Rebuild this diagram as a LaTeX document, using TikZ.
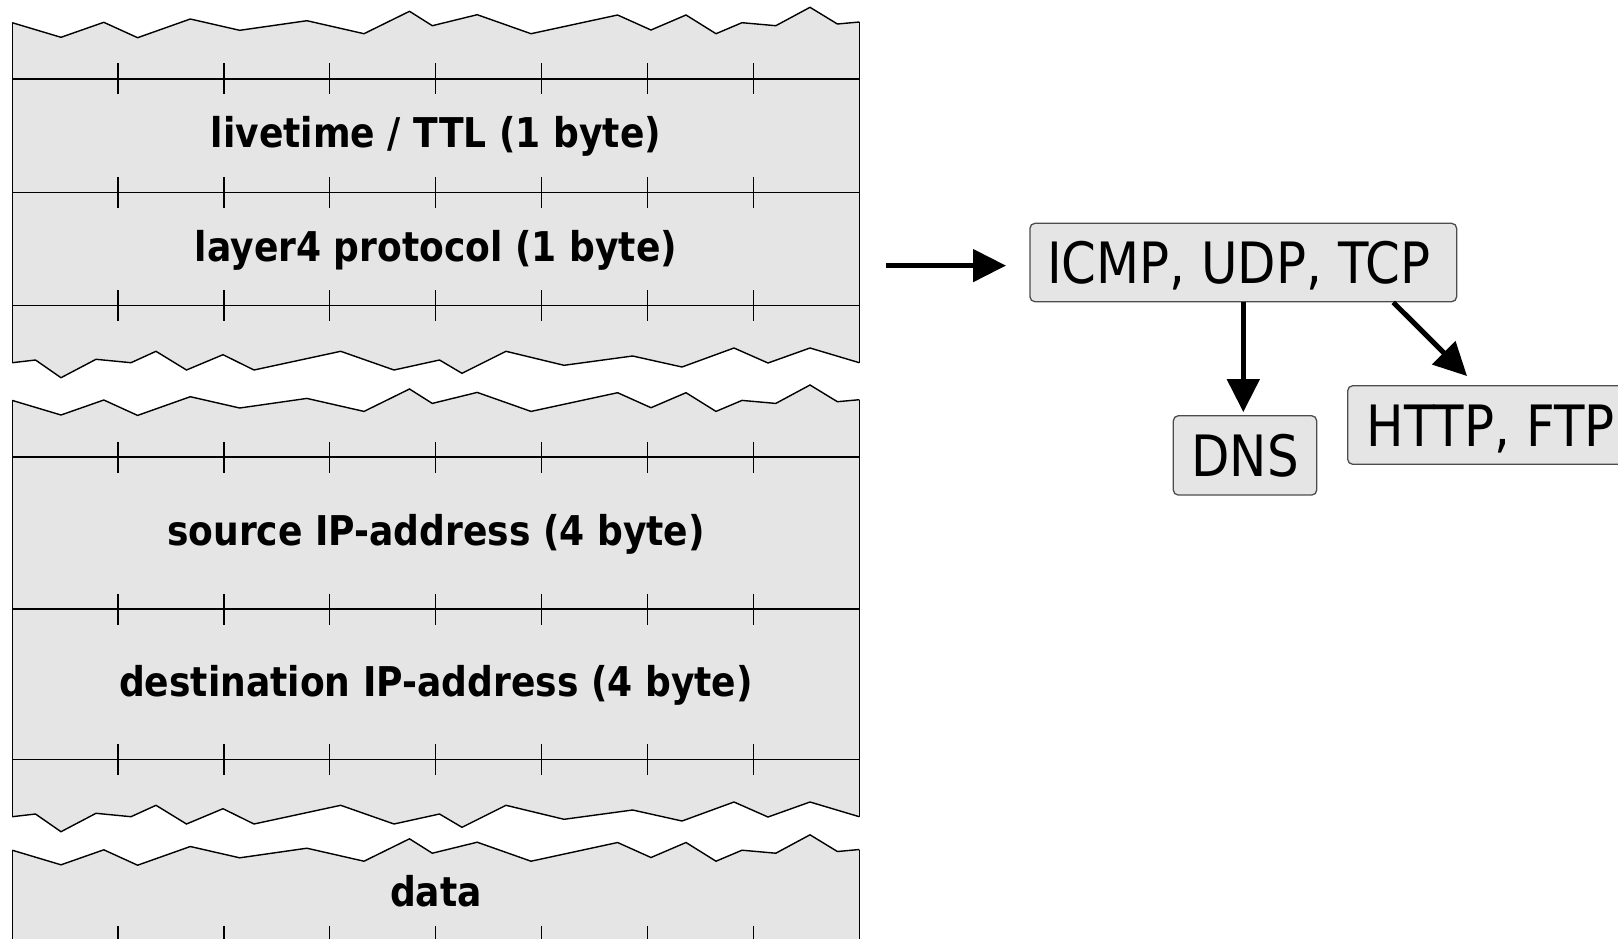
\documentclass[tikz,border=0pt]{standalone}
\usepackage{fontspec}
\usetikzlibrary{arrows.meta,calc}
\newfontfamily\hdrfont{DejaVu Sans}[FakeStretch=0.88]
\newfontfamily\boxfont{DejaVu Sans}[FakeStretch=0.875]
\definecolor{pktgray}{HTML}{E5E5E5}
\definecolor{boxedge}{HTML}{4D4D4D}
\newcommand\topjag[1]{(12.2,22.7+#1) -- (61,37.3+#1) -- (103.8,22.3+#1) -- (137.6,37.7+#1) -- (190.3,19+#1) -- (239.7,30.3+#1) -- (306.9,20.7+#1) -- (364,33.7+#1) -- (409.5,11.3+#1) -- (432.3,25.7+#1) -- (477.2,14.7+#1) -- (531,33.7+#1) -- (617.6,15+#1) -- (651,30+#1) -- (686,15+#1) -- (716,33.7+#1) -- (742,22.7+#1) -- (775.8,25.7+#1) -- (810,7.3+#1) -- (837.4,24+#1) -- (859.3,22+#1)}
\newcommand\botjag[1]{(859.3,362.7+#1) -- (810,348+#1) -- (768,363+#1) -- (734,348+#1) -- (682,367+#1) -- (632.6,356+#1) -- (564,365.3+#1) -- (506,351.3+#1) -- (462,373.3+#1) -- (439.5,360+#1) -- (394,370+#1) -- (340.7,351.3+#1) -- (254,370+#1) -- (223,354.7+#1) -- (186.5,370+#1) -- (156,351.3+#1) -- (131,362.7+#1) -- (96,359.3+#1) -- (61,377.7+#1) -- (35.5,360+#1) -- (12.2,362.7+#1)}
\tikzset{
  blk/.style={fill=pktgray},
  edge/.style={draw=black, line width=1.4pt, line join=miter},
  hl/.style={draw=black, line width=1.2pt},
  hdr/.style={anchor=base, inner sep=0pt, font=\hdrfont\bfseries\fontsize{41}{44}\selectfont},
  proto/.style={draw=boxedge, fill=pktgray, line width=1.3pt, rounded corners=5pt,
    inner sep=0pt, text height=42pt, text depth=0pt,
    font=\boxfont\fontsize{57}{60}\selectfont},
  arr/.style={draw=black, line width=5pt, -{Triangle[length=33pt,width=32pt]}}
}
\begin{document}
\begin{tikzpicture}[x=1pt,y=-1pt]
\useasboundingbox (0,0) rectangle (1618,938);
\clip (0,0) rectangle (1618,938);
% block 1
\fill[blk] \topjag{0} -- \botjag{0} -- cycle;
\draw[edge] \topjag{0};
\draw[edge] \botjag{0};
\draw[edge] (12.2,22.7) -- (12.2,362.7);
\draw[edge] (859.3,22) -- (859.3,362.7);
% block 2
\fill[blk] \topjag{377.7} -- \botjag{454} -- cycle;
\draw[edge] \topjag{377.7};
\draw[edge] \botjag{454};
\draw[edge] (12.2,400.4) -- (12.2,816.7);
\draw[edge] (859.3,399.7) -- (859.3,816.7);
% block 3
\fill[blk] \topjag{827.5} -- (859.3,960) -- (12.2,960) -- cycle;
\draw[edge] \topjag{827.5};
\draw[edge] (12.2,850.2) -- (12.2,960);
\draw[edge] (859.3,849.5) -- (859.3,960);
% field lines and ticks
\foreach \ly in {78.9,192.5,305.5,457,609,759.5,941}{
  \draw[hl] (12.2,\ly) -- (859.3,\ly);
  \foreach \k in {1,...,7}
    \draw[hl] (12.2+\k*105.89,\ly-15.5) -- ++(0,31);
}
% field labels
\node[hdr] (ttl)  at (436,147.7) {livetime / TTL (1 byte)};
\node[hdr] (l4)   at (436,261) {layer4 protocol (1 byte)};
\node[hdr] (src)  at (436,545) {source IP-address (4 byte)};
\node[hdr] (dst)  at (436,696) {destination IP-address (4 byte)};
\node[hdr] (data) at (436,906.7) {data};
% protocol boxes
\node[proto, minimum width=426.7pt, minimum height=78.4pt] (icmp) at (1243.3,262.5) {ICMP, UDP, TCP\hspace*{9pt}};
\node[proto, minimum width=143.4pt, minimum height=79.3pt] (dns) at (1245,455.4) {DNS};
\node[proto, minimum width=286pt, minimum height=78.6pt] (http) at (1490.7,425) {HTTP, FTP};
% connectors
\coordinate (from) at (886,265.6);
\draw[arr, shorten >=23.3pt] (from) -- (from -| icmp.west);
\draw[arr, shorten >=3pt] (icmp.south) -- (icmp.south |- dns.north);
\draw[arr] ([xshift=150pt]icmp.south) -- ([xshift=120pt,yshift=9pt]http.north west);
\end{tikzpicture}
\end{document}
